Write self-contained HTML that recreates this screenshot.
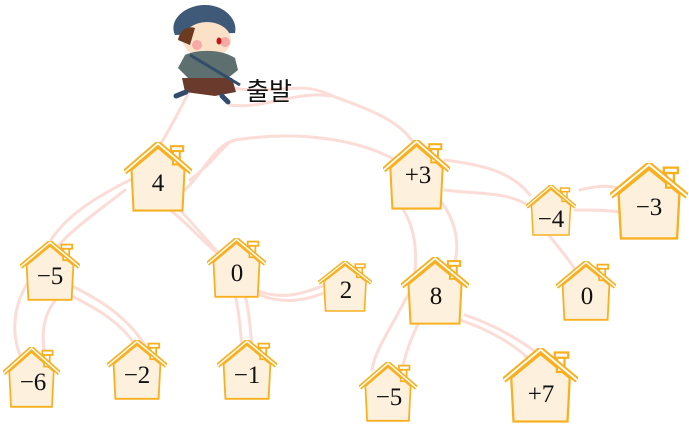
<!DOCTYPE html>
<html><head><meta charset="utf-8"><style>
html,body{margin:0;padding:0;background:#fff;}
svg{display:block;}
text{font-family:"Liberation Serif","Noto Serif CJK SC",serif;fill:#111;}
</style></head><body>
<svg width="689" height="424" viewBox="0 0 689 424" xmlns="http://www.w3.org/2000/svg">
<defs>
<symbol id="h" viewBox="0 0 100 100" preserveAspectRatio="none">
  <polygon points="11,40 50,8 89,40 86,98 14,98" fill="#fdf0dc" stroke="#f8b020" stroke-width="3"/>
  <rect x="72" y="12" width="10" height="20" fill="#fff" stroke="#f8b020" stroke-width="3"/>
  <rect x="69" y="6" width="18" height="7" fill="#fff" stroke="#f8b020" stroke-width="3"/>
  <polyline points="1,43 50,2 99,43" fill="none" stroke="#f8b020" stroke-width="8" stroke-linejoin="miter"/>
  <polyline points="1,43 50,2 99,43" fill="none" stroke="#fff" stroke-width="2.5"/>
</symbol>
</defs>
<g fill="none" stroke="#fbdcd6" stroke-width="3" stroke-linecap="round">
  <path d="M200 70 C185 100,175 120,160 145"/>
  <path d="M230 88 C280 95,300 80,330 95 C370 110,400 120,415 145"/>
  <path d="M185 190 C205 170,215 145,235 140 C300 130,360 140,395 160"/>
  <path d="M190 180 C210 165,220 150,230 142"/>
  <path d="M130 180 C90 200,60 220,45 250"/>
  <path d="M125 190 C100 210,70 230,55 250"/>
  <path d="M170 210 C190 225,200 240,220 255"/>
  <path d="M175 205 C195 225,210 245,225 260"/>
  <path d="M255 290 C280 300,300 295,325 285"/>
  <path d="M260 295 C285 305,310 300,330 290"/>
  <path d="M235 295 C240 315,240 330,242 345"/>
  <path d="M245 295 C250 315,250 330,252 345"/>
  <path d="M60 290 C90 305,120 320,135 345"/>
  <path d="M70 285 C100 300,125 315,145 345"/>
  <path d="M30 280 C15 300,10 330,20 355"/>
  <path d="M60 295 C45 310,40 330,45 355"/>
  <path d="M400 205 C420 230,420 280,405 300 C390 330,375 350,372 370"/>
  <path d="M440 200 C455 220,460 240,455 262"/>
  <path d="M420 320 C410 340,405 355,402 370"/>
  <path d="M460 320 C490 330,515 345,530 360"/>
  <path d="M465 315 C495 325,520 340,540 355"/>
  <path d="M445 160 C480 165,510 170,530 195"/>
  <path d="M445 190 C480 195,510 190,535 210"/>
  <path d="M545 230 C560 250,570 260,575 270"/>
  <path d="M575 210 C595 210,605 210,620 212"/>
  <path d="M580 190 C600 185,610 185,625 190"/>
  <path d="M230 105 C260 110,300 90,330 96"/>
</g>
<g>
  <path d="M175 35 C168 20,185 5,205 5 C225 5,238 20,235 33 Z" fill="#3f5a78"/>
  <ellipse cx="207" cy="40" rx="24" ry="18" fill="#fbe1c8"/>
  <path d="M178 40 C180 28,190 26,195 28 L190 45 Z" fill="#6b3a1f"/>
  <circle cx="197" cy="45" r="5" fill="#f6a9a5"/>
  <circle cx="225" cy="42" r="5" fill="#f6a9a5"/>
  <ellipse cx="219" cy="41" rx="2.5" ry="3.5" fill="#c01818"/>
  <path d="M185 55 C195 50,220 48,235 58 L238 70 L228 78 L190 80 L178 68 Z" fill="#5d6f6e"/>
  <path d="M182 78 L232 78 L236 92 L215 96 L185 92 Z" fill="#6a3a2c"/>
  <path d="M190 55 L240 85" stroke="#324c6b" stroke-width="3"/>
  <path d="M186 92 L176 96" stroke="#324c6b" stroke-width="5" stroke-linecap="round"/>
  <path d="M222 96 L228 102" stroke="#324c6b" stroke-width="5" stroke-linecap="round"/>
</g>
<text x="246" y="100" font-size="25" style="font-family:'Liberation Sans','Noto Sans CJK KR',sans-serif">출발</text>
<g>
  <use href="#h" x="124" y="142" width="68" height="70"/>
  <use href="#h" x="383" y="140" width="67" height="70"/>
  <use href="#h" x="526" y="185" width="50" height="51"/>
  <use href="#h" x="610" y="163" width="78" height="77"/>
  <use href="#h" x="20" y="241" width="60" height="60"/>
  <use href="#h" x="207" y="238" width="59" height="60"/>
  <use href="#h" x="318" y="261" width="54" height="51"/>
  <use href="#h" x="401" y="257" width="68" height="68"/>
  <use href="#h" x="556" y="261" width="60" height="60"/>
  <use href="#h" x="3" y="347" width="57" height="61"/>
  <use href="#h" x="107" y="340" width="60" height="60"/>
  <use href="#h" x="217" y="340" width="60" height="60"/>
  <use href="#h" x="359" y="362" width="58" height="60"/>
  <use href="#h" x="503" y="348" width="75" height="75"/>
</g>
<g font-size="25" text-anchor="middle">
  <text x="158" y="191">4</text>
  <text x="418" y="183">+3</text>
  <text x="551" y="227">−4</text>
  <text x="649" y="215">−3</text>
  <text x="50" y="284">−5</text>
  <text x="237" y="281">0</text>
  <text x="346" y="298">2</text>
  <text x="436" y="304">8</text>
  <text x="587" y="304">0</text>
  <text x="33" y="390">−6</text>
  <text x="137" y="383">−2</text>
  <text x="247" y="383">−1</text>
  <text x="389" y="405">−5</text>
  <text x="541" y="402">+7</text>
</g>
</svg>
</body></html>
